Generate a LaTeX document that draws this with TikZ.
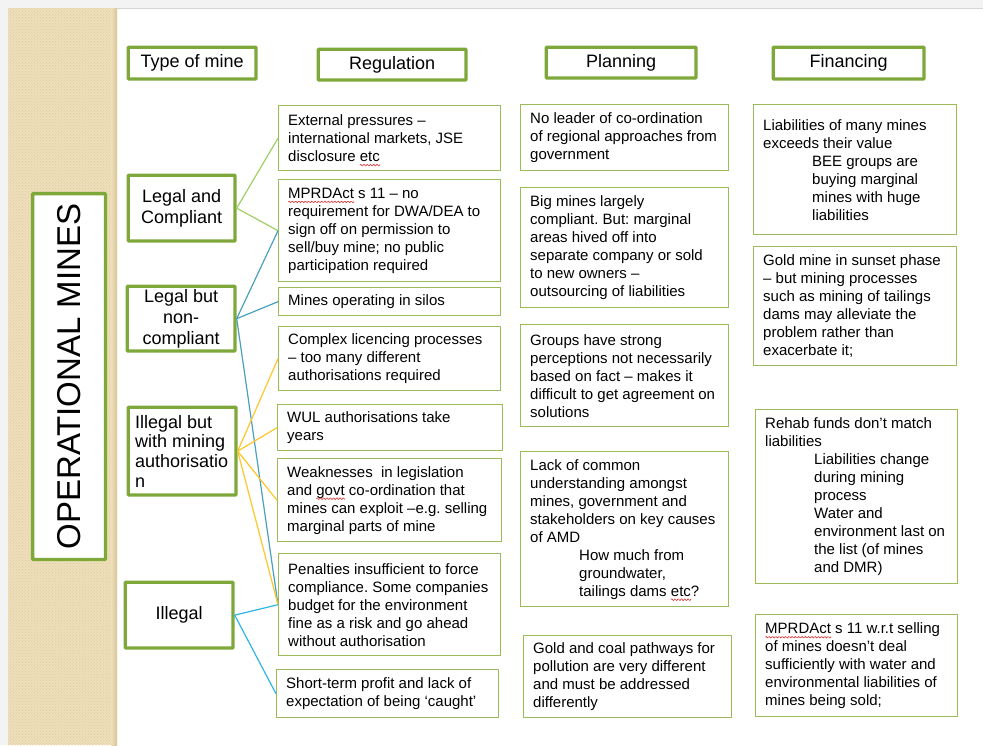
\documentclass[tikz,border=0pt]{standalone}
\usepackage{fontspec}
\setmainfont{Liberation Sans}
\usetikzlibrary{patterns}
\frenchspacing

\definecolor{pagegray}{HTML}{F3F3F3}
\definecolor{framegray}{HTML}{D4D4D4}
\definecolor{stripe}{HTML}{EEDFBB}
\definecolor{stripedot}{HTML}{E0CC9C}
\definecolor{stripeshade}{HTML}{D8C596}
\definecolor{boxgreen}{HTML}{7FA83A}
\definecolor{thingreen}{HTML}{9BBB59}
\definecolor{lcgreen}{HTML}{9FD066}
\definecolor{ncteal}{HTML}{4BA0BE}
\definecolor{authyellow}{HTML}{FFC62A}
\definecolor{illblue}{HTML}{2EB5EA}
\definecolor{spellred}{HTML}{E03030}

% wavy red underline used for flagged words
\newsavebox\spellbox
\newcommand\spellmark[1]{\sbox\spellbox{#1}\edef\spellwd{\the\wd\spellbox}%
  \rlap{\usebox\spellbox}%
  \begin{tikzpicture}[x=1pt,y=1pt,baseline=0pt]
    \useasboundingbox (0,0) rectangle (\spellwd,0);
    \draw[spellred, line width=0.6pt] plot[domain=0:\spellwd, samples=60, smooth]
      (\x,{-3.6+0.8*sin(\x*110)});
  \end{tikzpicture}}
\newcommand\ind{\hspace*{49pt}}

\begin{document}
\begin{tikzpicture}[x=1pt, y=-1pt,
  thick box/.style={draw=boxgreen, line width=3.3pt, fill=white, inner sep=0pt,
    rounded corners=0.8pt, anchor=north west},
  thin box/.style={draw=thingreen, line width=1.4pt, fill=white, inner sep=0pt,
    anchor=north west},
  head text/.style={font=\fontsize{18}{21}\selectfont, align=center},
  body text/.style={font=\fontsize{15}{18}\selectfont, inner sep=0pt, align=left,
    anchor=west},
  link/.style={line width=1.2pt}]

\useasboundingbox (0,0) rectangle (983,745);

% page and side stripe
\fill[pagegray] (0,0) rectangle (983,745);
\fill[white] (8,8) rectangle (983,745);
\draw[framegray, line width=0.8pt] (8,745) -- (8,8) -- (983,8);
\fill[stripe] (8,8) rectangle (117,745);
\fill[pattern=crosshatch dots, pattern color=stripedot] (8,8) rectangle (117,745);
\shade[left color=stripe, right color=stripeshade] (111,8) rectangle (117,745);

% vertical title
\node[thick box, anchor=center, rotate=90, minimum width=365.8, minimum height=72.8,
  font=\fontsize{33}{36}\selectfont] (om) at (69,376.5) {OPERATIONAL MINES};

% column headers
\node[thick box, head text, minimum width=127.8, minimum height=31.8] (tmine) at (126.6,45.6) {Type of mine};
\node[thick box, head text, minimum width=147.8, minimum height=30.8] (hreg) at (316.6,47.6) {Regulation};
\node[thick box, head text, minimum width=149.8, minimum height=30.8] (hplan) at (544.6,45.6) {Planning};
\node[thick box, head text, minimum width=150.8, minimum height=31.8] (hfin) at (771.6,45.6) {Financing};

% types of mine
\node[thick box, head text, minimum width=106.8, minimum height=65.8] (legal) at (126.6,173.6) {Legal and\\Compliant};
\node[thick box, head text, minimum width=107.8, minimum height=64.8] (legalnc) at (125.6,284.6) {Legal but\\non-\\compliant};
\node[thick box, minimum width=107.8, minimum height=87.8] (illauth) at (126.6,405.6) {};
\node[head text, align=left, anchor=west, inner sep=0pt, font=\fontsize{18}{19.7}\selectfont]
  at ([xshift=8.4pt]illauth.west) {Illegal but\\with mining\\authorisatio\\n};
\node[thick box, head text, minimum width=107.8, minimum height=65.8] (illegal) at (123.6,580.6) {Illegal};

% regulation column
\node[thin box, minimum width=222, minimum height=65] (r1) at (278,105) {};
\node[body text] at ([xshift=10pt]r1.west) {External pressures –\\international markets, JSE\\disclosure \spellmark{etc}};
\node[thin box, minimum width=222, minimum height=102] (r2) at (278,179) {};
\node[body text] at ([xshift=10pt]r2.west) {\spellmark{MPRDAct} s 11 – no\\requirement for DWA/DEA to\\sign off on permission to\\sell/buy mine; no public\\participation required};
\node[thin box, minimum width=222, minimum height=28] (r3) at (278,287) {};
\node[body text] at ([xshift=10pt]r3.west) {Mines operating in silos};
\node[thin box, minimum width=222, minimum height=64] (r4) at (278,326) {};
\node[body text] at ([xshift=10pt]r4.west) {Complex licencing processes\\– too many different\\authorisations required};
\node[thin box, minimum width=225, minimum height=46] (r5) at (277,404) {};
\node[body text] at ([xshift=10pt]r5.west) {WUL authorisations take\\years};
\node[thin box, minimum width=224, minimum height=83] (r6) at (277,458) {};
\node[body text] at ([xshift=10pt]r6.west) {Weaknesses \ in legislation\\and \spellmark{govt} co-ordination that\\mines can exploit –e.g. selling\\marginal parts of mine};
\node[thin box, minimum width=222, minimum height=102] (r7) at (278,553) {};
\node[body text] at ([xshift=10pt]r7.west) {Penalties insufficient to force\\compliance. Some companies\\budget for the environment\\fine as a risk and go ahead\\without authorisation};
\node[thin box, minimum width=222, minimum height=48] (r8) at (276,669) {};
\node[body text] at ([xshift=10pt]r8.west) {Short-term profit and lack of\\expectation of being ‘caught’};

% planning column
\node[thin box, minimum width=208, minimum height=66] (p1) at (520,104) {};
\node[body text] at ([xshift=10pt]p1.west) {No leader of co-ordination\\of regional approaches from\\government};
\node[thin box, minimum width=208, minimum height=120] (p2) at (520,187) {};
\node[body text] at ([xshift=10pt]p2.west) {Big mines largely\\compliant. But: marginal\\areas hived off into\\separate company or sold\\to new owners –\\outsourcing of liabilities};
\node[thin box, minimum width=208, minimum height=102] (p3) at (520,324) {};
\node[body text] at ([xshift=10pt]p3.west) {Groups have strong\\perceptions not necessarily\\based on fact – makes it\\difficult to get agreement on\\solutions};
\node[thin box, minimum width=208, minimum height=155] (p4) at (520,451) {};
\node[body text] at ([xshift=10pt]p4.west) {Lack of common\\understanding amongst\\mines, government and\\stakeholders on key causes\\of AMD\\\ind How much from\\\ind groundwater,\\\ind tailings dams \spellmark{etc}?};
\node[thin box, minimum width=208, minimum height=82] (p5) at (523,635) {};
\node[body text] at ([xshift=10pt]p5.west) {Gold and coal pathways for\\pollution are very different\\and must be addressed\\differently};

% financing column
\node[thin box, minimum width=203, minimum height=130] (f1) at (753,104) {};
\node[body text] at ([xshift=10pt]f1.west) {Liabilities of many mines\\exceeds their value\\\ind BEE groups are\\\ind buying marginal\\\ind mines with huge\\\ind liabilities};
\node[thin box, minimum width=203, minimum height=119] (f2) at (753,246) {};
\node[body text] at ([xshift=10pt]f2.west) {Gold mine in sunset phase\\– but mining processes\\such as mining of tailings\\dams may alleviate the\\problem rather than\\exacerbate it;};
\node[thin box, minimum width=202, minimum height=174] (f3) at (755,409) {};
\node[body text] at ([xshift=10pt]f3.west) {Rehab funds don’t match\\liabilities\\\ind Liabilities change\\\ind during mining\\\ind process\\\ind Water and\\\ind environment last on\\\ind the list (of mines\\\ind and DMR)};
\node[thin box, minimum width=202, minimum height=102] (f4) at (755,614) {};
\node[body text] at ([xshift=10pt]f4.west) {\spellmark{MPRDAct} s 11 w.r.t selling\\of mines doesn’t deal\\sufficiently with water and\\environmental liabilities of\\mines being sold;};

% links from mine types to regulation issues
\draw[link, lcgreen] (legal.east) -- (r1.west);
\draw[link, lcgreen] (legal.east) -- (r2.west);
\draw[link, ncteal] (legalnc.east) -- (r2.west);
\draw[link, ncteal] (legalnc.east) -- (r3.west);
\draw[link, ncteal] (legalnc.east) -- (r7.west);
\draw[link, authyellow] (illauth.east) -- (r4.west);
\draw[link, authyellow] (illauth.east) -- (r5.west);
\draw[link, authyellow] (illauth.east) -- (r6.west);
\draw[link, authyellow] (illauth.east) -- (r7.west);
\draw[link, illblue] (illegal.east) -- (r7.west);
\draw[link, illblue] (illegal.east) -- (r8.west);
\end{tikzpicture}
\end{document}
